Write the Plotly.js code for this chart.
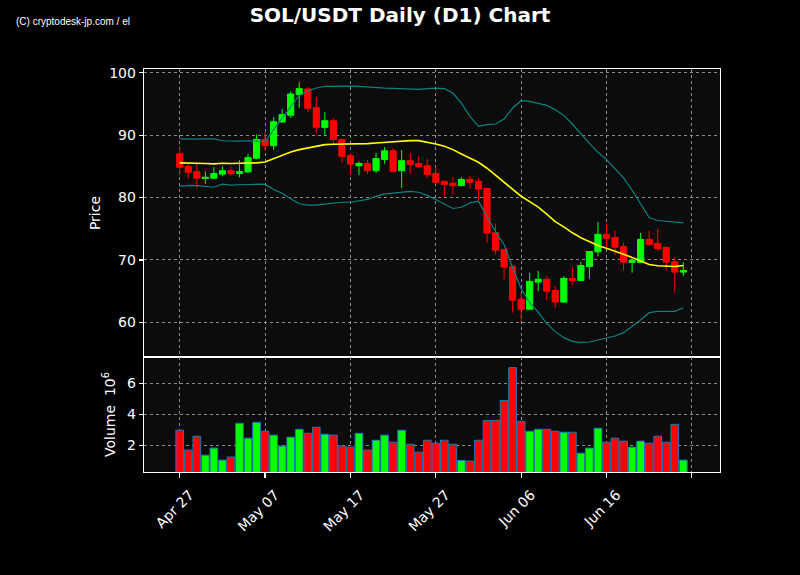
<!DOCTYPE html>
<html>
<head>
<meta charset="utf-8">
<script src="https://cdn.plot.ly/plotly-3.0.1.min.js"></script>
<style>html,body{margin:0;padding:0;background:#000;}#chart{width:800px;height:575px;}</style>
</head>
<body>
<div id="chart"></div>
<script>
const dates = ['2025-04-27','2025-04-28','2025-04-29','2025-04-30','2025-05-01','2025-05-02','2025-05-03','2025-05-04','2025-05-05','2025-05-06',
'2025-05-07','2025-05-08','2025-05-09','2025-05-10','2025-05-11','2025-05-12','2025-05-13','2025-05-14','2025-05-15','2025-05-16',
'2025-05-17','2025-05-18','2025-05-19','2025-05-20','2025-05-21','2025-05-22','2025-05-23','2025-05-24','2025-05-25','2025-05-26',
'2025-05-27','2025-05-28','2025-05-29','2025-05-30','2025-05-31','2025-06-01','2025-06-02','2025-06-03','2025-06-04','2025-06-05',
'2025-06-06','2025-06-07','2025-06-08','2025-06-09','2025-06-10','2025-06-11','2025-06-12','2025-06-13','2025-06-14','2025-06-15',
'2025-06-16','2025-06-17','2025-06-18','2025-06-19','2025-06-20','2025-06-21','2025-06-22','2025-06-23','2025-06-24','2025-06-25'];

const openP = [87.0,85.0,84.15,83.05,83.1,83.75,84.3,83.85,84.1,86.3,
89.3,88.3,92.1,93.2,96.5,97.4,94.4,91.25,92.3,89.3,
86.7,85.1,85.45,84.3,86.1,87.5,84.3,85.9,85.45,85.1,
83.85,82.6,82.3,81.95,82.9,82.6,81.45,74.35,71.65,68.95,
63.7,62.1,66.45,66.9,65.1,63.25,67.05,66.7,68.95,71.3,
74.1,73.6,72.15,69.6,69.6,73.3,72.65,72.0,69.7,68.05];
const highP = [88.2,85.3,85.5,84.2,84.9,85.0,85.0,86.0,87.0,90.1,
90.5,92.9,94.2,97.0,98.5,97.7,96.1,93.7,92.75,89.45,
87.15,85.8,86.0,87.15,88.1,87.95,87.6,87.15,86.7,86.2,
84.85,82.7,83.3,83.25,83.5,83.15,81.5,75.8,71.7,69.1,
64.75,67.95,68.25,67.4,65.8,67.4,68.9,69.7,71.4,76.1,
75.85,74.7,72.75,70.1,74.35,74.7,75.0,72.2,70.5,69.65];
const lowP = [83.7,83.0,81.4,82.2,83.0,83.4,83.5,83.25,84.0,86.1,
87.5,87.6,92.0,92.75,94.4,93.65,90.35,89.9,88.6,85.55,
83.7,83.6,83.8,83.9,85.4,84.0,81.55,83.8,84.75,83.15,
82.2,80.1,80.5,81.8,81.4,79.4,72.75,70.9,66.9,61.55,
60.15,62.0,65.0,63.55,62.35,63.2,66.0,66.6,67.0,70.6,
72.1,70.8,68.3,67.95,69.5,72.4,71.45,68.3,64.75,67.4];
const closeP = [84.85,84.05,83.1,83.25,83.85,84.3,83.8,84.15,86.4,89.3,
88.3,92.15,93.3,96.6,97.45,94.3,91.25,92.3,89.3,86.6,
85.35,85.45,84.3,86.25,87.5,84.2,85.9,85.3,84.95,83.7,
82.45,82.1,81.9,82.9,82.45,81.35,74.3,71.55,68.85,63.55,
62.1,66.55,66.9,65.0,63.25,67.05,66.7,69.1,71.35,74.1,
73.45,72.05,69.65,69.95,73.3,72.5,71.8,69.65,68.05,68.3];

const smaLine = [85.55,85.55,85.5,85.45,85.4,85.5,85.45,85.47,85.5,85.55,
85.71,86.24,86.88,87.3,87.68,87.95,88.27,88.48,88.53,88.53,
88.59,88.59,88.64,88.75,88.85,89.01,89.05,89.12,89.12,88.9,
88.59,88.21,87.68,86.99,86.35,85.65,84.7,83.6,82.5,81.35,
80.21,79.35,78.48,77.35,76.15,75.3,74.35,73.55,72.88,72.32,
71.89,71.47,70.93,70.4,69.81,69.28,69.07,69.01,68.96,69.12];
const upperBand = [89.39,89.35,89.35,89.4,89.4,89.1,89.05,89.05,89.1,89.1,
89.0,90.88,92.75,94.6,96.37,97.12,97.55,97.81,97.87,97.87,
97.87,97.81,97.7,97.6,97.55,97.5,97.44,97.39,97.33,97.44,
97.55,97.45,96.75,95.15,93.0,91.41,91.68,91.79,92.59,94.35,
95.52,95.41,95.15,94.77,94.08,93.17,91.79,90.19,88.69,87.25,
86.08,84.64,83.15,81.17,78.9,76.8,76.32,76.16,76.05,75.95];
const lowerBand = [81.8,81.95,81.9,81.75,81.65,82.15,82.0,82.05,82.1,82.1,
82.15,81.3,80.7,79.8,79.0,78.8,78.8,78.95,79.1,79.25,
79.25,79.45,79.7,80.2,80.6,80.7,80.85,81.0,80.85,80.35,
79.7,79.0,78.25,78.45,79.15,79.41,76.91,74.51,72.48,68.75,
65.39,63.15,61.65,59.79,58.51,57.55,56.96,56.75,56.85,57.17,
57.55,57.81,58.35,59.31,60.37,61.55,61.76,61.76,61.76,62.35];

const volume = [2.97e6,1.68e6,2.58e6,1.35e6,1.81e6,1.03e6,1.23e6,3.42e6,2.45e6,3.48e6,
2.90e6,2.65e6,1.94e6,2.52e6,3.03e6,2.77e6,3.16e6,2.71e6,2.65e6,1.94e6,
1.87e6,2.77e6,1.68e6,2.32e6,2.65e6,2.19e6,2.97e6,2.06e6,1.55e6,2.32e6,
2.13e6,2.32e6,2.06e6,1.01e6,0.97e6,2.32e6,3.61e6,3.61e6,4.90e6,7.03e6,
3.55e6,2.90e6,3.03e6,3.03e6,2.90e6,2.84e6,2.84e6,1.48e6,1.81e6,3.10e6,
2.19e6,2.45e6,2.26e6,1.87e6,2.26e6,2.13e6,2.58e6,2.19e6,3.35e6,1.03e6];

const tickDates = ['2025-04-27','2025-05-07','2025-05-17','2025-05-27','2025-06-06','2025-06-16','2025-06-26'];
const tickLabels = ['Apr 27','May 07','May 17','May 27','Jun 06','Jun 16',' '];
const priceTicks = [60,70,80,90,100];
const volTicks = [2e6,4e6,6e6];
const volTickLabels = ['2','4','6'];

const UP = '#00ff00', DOWN = '#ff0000', BAND = '#0f8080', MID = '#ffff00';
const volColors = closeP.map((c, i) => c >= openP[i] ? UP : DOWN);
const FONT = 'DejaVu Sans, sans-serif';
const DAY = 86400000;

const traces = [
  {type:'scatter', mode:'lines', x:dates, y:upperBand, line:{color:BAND, width:1.2}, xaxis:'x', yaxis:'y', hoverinfo:'skip'},
  {type:'scatter', mode:'lines', x:dates, y:lowerBand, line:{color:BAND, width:1.2}, xaxis:'x', yaxis:'y', hoverinfo:'skip'},
  {type:'scatter', mode:'lines', x:dates, y:smaLine, line:{color:MID, width:1.6}, xaxis:'x', yaxis:'y', hoverinfo:'skip'},
  {type:'candlestick', x:dates, open:openP, high:highP, low:lowP, close:closeP, xaxis:'x', yaxis:'y',
   increasing:{line:{color:UP, width:1}, fillcolor:UP},
   decreasing:{line:{color:DOWN, width:1}, fillcolor:DOWN},
   whiskerwidth:0},
  {type:'bar', x:dates, y:volume, width:0.9*DAY, xaxis:'x2', yaxis:'y2',
   marker:{color:volColors, line:{color:'#1f77b4', width:1}}}
];

const gridCommon = {gridcolor:'#8a8a8a', griddash:'dot', gridwidth:1, zeroline:false,
  showline:true, linecolor:'#ffffff', linewidth:1.3, mirror:true};

const layout = {
  width:800, height:575,
  paper_bgcolor:'#000000', plot_bgcolor:'#0c0c0c',
  margin:{l:144, r:80, t:69, b:103},
  showlegend:false,
  boxgap:0.28, boxgroupgap:0,
  font:{family:FONT, color:'#ffffff', size:13.5},
  title:{text:'<b>SOL/USDT Daily (D1) Chart</b>', x:0.5, xanchor:'center', y:0.986, yanchor:'top',
         font:{family:FONT, size:20, color:'#ffffff'}},
  xaxis:Object.assign({}, gridCommon, {type:'date', domain:[0,1], anchor:'y',
    range:['2025-04-22 19:30','2025-06-29 07:10'], rangeslider:{visible:false},
    tickvals:tickDates, ticktext:tickLabels, showticklabels:false, ticks:''}),
  yaxis:Object.assign({}, gridCommon, {domain:[0.2854,1], anchor:'x', range:[54.45,100.6],
    tickvals:priceTicks, ticks:'outside', ticklen:4, tickcolor:'#ffffff', tickwidth:1.2,
    tickfont:{family:FONT, size:14, color:'#ffffff'},
    title:{text:'Price', font:{family:FONT, size:14, color:'#ffffff'}, standoff:5}}),
  xaxis2:Object.assign({}, gridCommon, {type:'date', domain:[0,1], anchor:'y2', matches:'x',
    range:['2025-04-22 19:30','2025-06-29 07:10'],
    tickvals:tickDates, ticktext:tickLabels, ticks:'outside', ticklen:5, tickcolor:'#ffffff', tickwidth:1.2,
    tickangle:-45, ticklabelshift:10, ticklabelstandoff:3,
    tickfont:{family:FONT, size:14, color:'#ffffff'}}),
  yaxis2:Object.assign({}, gridCommon, {domain:[0,0.2854], anchor:'x2', range:[0.26e6,7.72e6],
    tickvals:volTicks, ticktext:volTickLabels, ticks:'outside', ticklen:4, tickcolor:'#ffffff', tickwidth:1.2,
    tickfont:{family:FONT, size:14, color:'#ffffff'},
    title:{text:'Volume  10<sup>6</sup>', font:{family:FONT, size:14, color:'#ffffff'}, standoff:8}}),
  bargap:0,
  annotations:[{text:'(C) cryptodesk-jp.com / el', xref:'paper', yref:'paper', x:-0.226, y:1.119,
    xanchor:'left', yanchor:'middle', showarrow:false, font:{family:'Liberation Sans, Arial, sans-serif', size:10, color:'#ffffff'}}]
};

Plotly.newPlot('chart', traces, layout, {displayModeBar:false, staticPlot:true});
</script>
</body>
</html>
